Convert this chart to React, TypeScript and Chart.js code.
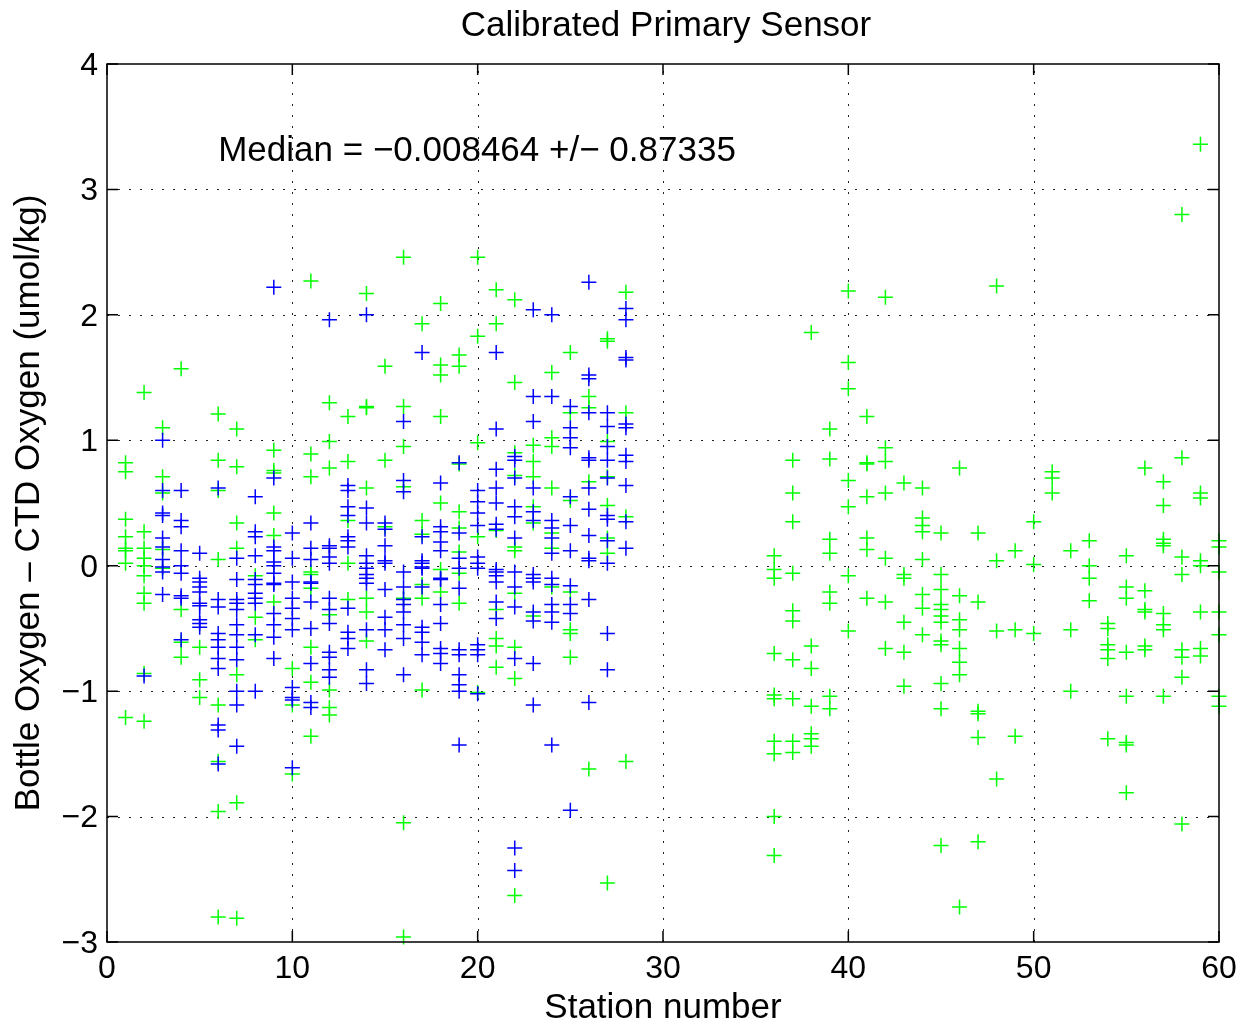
import React, { useEffect, useRef } from "react";
import { Chart, registerables } from "chart.js";

Chart.register(...registerables);

// ---- Data ----
const blueStations = [
  1, 2, 3, 4, 5, 6, 7, 8, 9, 10, 11, 12, 13, 14, 15, 16, 17, 18, 19, 20, 21, 22, 23, 24, 25, 26, 27, 28,
];
const blueValues: number[][] = [
  [],
  [-0.88],
  [1.0, 0.6, 0.42, 0.4, 0.22, 0.15, 0.05, -0.01, -0.05, -0.23],
  [0.6, 0.36, 0.31, 0.12, 0.0, -0.06, -0.24, -0.26, -0.59],
  [0.1, -0.1, -0.13, -0.17, -0.21, -0.3, -0.32, -0.43, -0.46, -0.49],
  [0.62, -0.27, -0.33, -0.54, -0.59, -0.65, -0.74, -0.82, -1.27, -1.31, -1.58],
  [0.06, -0.11, -0.27, -0.3, -0.35, -0.47, -0.55, -0.65, -0.75, -1.0, -1.11, -1.44],
  [0.55, 0.27, 0.23, 0.08, -0.11, -0.15, -0.22, -0.26, -0.3, -0.55, -1.0],
  [2.22, 0.7, 0.15, 0.12, 0.03, 0.0, -0.06, -0.14, -0.15, -0.38, -0.47, -0.57, -0.74],
  [0.26, 0.06, -0.13, -0.26, -0.34, -0.42, -0.51, -0.97, -1.05, -1.07, -1.61],
  [0.34, 0.14, 0.05, -0.13, -0.14, -0.29, -0.5, -0.78, -1.09, -1.13],
  [1.96, 0.16, 0.14, 0.07, 0.02, -0.26, -0.35, -0.46, -0.69, -0.73, -0.83, -0.89],
  [0.64, 0.6, 0.47, 0.4, 0.23, 0.2, 0.15, -0.34, -0.53, -0.58, -0.66],
  [2.0, 0.46, 0.34, 0.08, 0.02, -0.02, -0.07, -0.1, -0.14, -0.51, -0.83, -0.94],
  [0.34, 0.29, 0.16, 0.04, 0.02, -0.19, -0.41, -0.51, -0.67],
  [1.15, 0.68, 0.59, -0.05, -0.17, -0.27, -0.31, -0.37, -0.47, -0.58, -0.87],
  [1.7, 0.23, 0.04, 0.02, -0.01, -0.02, -0.17, -0.49, -0.53, -0.61, -0.71],
  [0.66, 0.31, 0.27, 0.19, 0.12, -0.1, -0.11, -0.31, -0.46, -0.66, -0.7, -0.78],
  [0.82, 0.26, 0.06, -0.02, -0.18, -0.67, -0.71, -0.87, -0.95, -1.0, -1.43],
  [0.6, 0.51, 0.42, 0.32, 0.07, 0.02, -0.02, -0.63, -0.67, -0.71, -1.02],
  [1.7, 1.09, 0.77, 0.62, 0.5, 0.33, 0.29, -0.03, -0.05, -0.08, -0.13, -0.29, -0.42],
  [0.87, 0.84, 0.7, 0.47, 0.39, 0.22, -0.05, -0.17, -0.33, -0.74, -2.25, -2.43],
  [2.04, 1.35, 1.15, 0.62, 0.43, 0.36, -0.07, -0.1, -0.13, -0.37, -0.44, -0.78, -1.11],
  [2.0, 1.35, 0.36, 0.3, 0.22, 0.1, -0.1, -0.15, -0.31, -0.37, -0.45, -1.43],
  [1.27, 1.1, 1.02, 0.94, 0.55, 0.32, 0.12, -0.16, -0.31, -0.38, -1.95],
  [2.26, 1.52, 1.49, 1.22, 0.86, 0.84, 0.62, 0.45, 0.24, 0.06, 0.04, -0.27, -1.09],
  [1.22, 1.11, 0.95, 0.84, 0.7, 0.4, 0.37, 0.2, 0.02, -0.54, -0.83],
  [2.05, 1.96, 1.66, 1.64, 1.13, 1.1, 0.88, 0.83, 0.64, 0.35, 0.14],
];

const greenStations = [
  1, 2, 3, 4, 5, 6, 7, 8, 9, 10, 11, 12, 13, 14, 15, 16, 17, 18, 19, 20, 21, 22, 23, 24, 25, 26, 27, 28,
  36, 37, 38, 39, 40, 41, 42, 43, 44, 45, 46, 47, 48, 49, 50, 51, 52, 53, 54, 55, 56, 57, 58, 59, 60,
];
const greenValues: number[][] = [
  [0.82, 0.75, 0.37, 0.23, 0.14, 0.12, 0.02, -1.21],
  [1.38, 0.27, 0.14, 0.06, 0.0, -0.08, -0.22, -0.3, -0.86, -1.24],
  [1.1, 0.71, 0.58, 0.13, -0.02],
  [1.57, -0.35, -0.61, -0.73],
  [-0.65, -0.91, -1.05],
  [1.21, 0.84, 0.6, 0.05, -1.11, -1.56, -1.96, -2.8],
  [1.09, 0.79, 0.34, 0.14, -0.87, -1.89, -2.81],
  [-0.08, -0.41, -0.59],
  [0.92, 0.76, 0.74, 0.42, 0.24, -0.29],
  [-0.82, -1.11, -1.66],
  [2.27, 0.89, 0.71, -0.05, -0.07, -0.18, -0.65, -0.93, -1.36],
  [1.3, 0.99, 0.78, -0.39, -0.99, -1.13, -1.19],
  [1.19, 0.83, 0.36, 0.02, -0.27],
  [2.17, 1.27, 1.26, 0.62, -0.26, -0.37, -0.6],
  [1.59, 0.84, 0.31],
  [2.46, 1.27, 0.95, 0.63, -0.26, -2.05, -2.96],
  [1.93, 0.36, 0.25, -0.15, -0.26, -0.99],
  [2.09, 1.6, 1.52, 1.19, 0.5, -0.03, -0.21],
  [1.68, 1.59, 0.81, 0.43, 0.3, 0.11, -0.06, -0.3],
  [2.46, 1.83, 0.98, 0.23, -1.01],
  [2.2, 1.93, 0.28, -0.35, -0.58, -0.64, -0.81],
  [2.12, 1.46, 0.9, 0.72, 0.15, 0.12, -0.22, -0.65, -0.9, -2.63],
  [0.96, 0.83, 0.71, 0.47, 0.34, -0.4],
  [1.54, 1.02, 0.95, 0.62, 0.26, 0.14, -0.17],
  [1.7, 1.22, 0.52, -0.21, -0.51, -0.54, -0.73],
  [1.35, 1.26, 0.67, -1.62],
  [1.81, 1.79, 0.99, 0.71, 0.48, 0.22, 0.1, -2.53],
  [2.18, 1.22, 0.39, -1.56],
  [0.08, -0.03, -0.1, -0.7, -1.03, -1.06, -1.4, -1.5, -2.0, -2.31],
  [0.84, 0.58, 0.35, -0.06, -0.36, -0.44, -0.75, -1.06, -1.4, -1.49],
  [1.86, -0.64, -0.82, -1.12, -1.34, -1.38, -1.44],
  [1.09, 0.85, 0.21, 0.1, -0.21, -0.3, -1.04, -1.14],
  [2.19, 1.62, 1.41, 0.68, 0.47, -0.08, -0.52],
  [1.19, 0.82, 0.81, 0.55, 0.22, 0.13, -0.26],
  [2.14, 0.94, 0.83, 0.58, 0.06, -0.29, -0.66],
  [0.66, -0.07, -0.1, -0.45, -0.69, -0.96],
  [0.62, 0.38, 0.32, 0.27, 0.05, -0.23, -0.34, -0.55],
  [0.26, -0.07, -0.19, -0.31, -0.35, -0.4, -0.45, -0.6, -0.63, -0.94, -1.14, -2.23],
  [0.78, -0.24, -0.43, -0.51, -0.66, -0.77, -0.87, -2.72],
  [0.26, -0.29, -1.16, -1.18, -1.37, -2.2],
  [2.23, 0.04, -0.52, -1.7],
  [0.12, -0.51, -1.36],
  [0.35, 0.01, -0.54],
  [0.75, 0.7, 0.58],
  [0.12, -0.51, -1.0],
  [0.2, 0.0, -0.1, -0.28],
  [-0.46, -0.5, -0.63, -0.67, -0.74, -1.38],
  [0.08, -0.17, -0.26, -0.69, -1.04, -1.41, -1.43, -1.81],
  [0.78, -0.2, -0.35, -0.37, -0.64, -0.67],
  [0.67, 0.48, 0.21, 0.18, 0.16, -0.38, -0.47, -0.51, -1.04],
  [2.8, 0.86, 0.07, -0.07, -0.67, -0.73, -0.89, -2.06],
  [3.36, 0.58, 0.54, 0.04, 0.0, -0.37, -0.66, -0.72],
  [0.2, 0.15, -0.05, -0.37, -0.55, -1.04, -1.12],
];

const xTicks = [0, 10, 20, 30, 40, 50, 60];
const yTicks = [-3, -2, -1, 0, 1, 2, 3, 4];
const titleText = "Calibrated Primary Sensor";
const xLabelText = "Station number";
const yLabelText = "Bottle Oxygen \u2013 CTD Oxygen (umol/kg)";
const medianText = "Median = \u22120.008464 +/\u2212 0.87335";
const medianX = 6;
const medianY = 3.3;

const FONT = '"Liberation Sans", Arial, Helvetica, sans-serif';
const fmt = (v: number) => (v < 0 ? "\u2212" + Math.abs(v) : String(v));

function toPoints(stations: number[], values: number[][]) {
  const pts: { x: number; y: number }[] = [];
  stations.forEach((s, i) => {
    (values[i] || []).forEach((v) => pts.push({ x: s, y: v }));
  });
  return pts;
}

const matlabAxes = {
  id: "matlabAxes",
  beforeDatasetsDraw(chart: any) {
    const { ctx, chartArea: a, scales } = chart;
    const xs = scales.x;
    const ys = scales.y;
    ctx.save();
    ctx.strokeStyle = "#222";
    ctx.lineWidth = 1;
    ctx.setLineDash([2, 9]);
    xTicks.forEach((t) => {
      if (t === xs.min || t === xs.max) return;
      const px = Math.round(xs.getPixelForValue(t)) + 0.5;
      ctx.beginPath();
      ctx.moveTo(px, a.bottom);
      ctx.lineTo(px, a.top);
      ctx.stroke();
    });
    yTicks.forEach((t) => {
      if (t === ys.min || t === ys.max) return;
      const py = Math.round(ys.getPixelForValue(t)) + 0.5;
      ctx.beginPath();
      ctx.moveTo(a.left, py);
      ctx.lineTo(a.right, py);
      ctx.stroke();
    });
    ctx.restore();
  },
  afterDraw(chart: any) {
    const { ctx, chartArea: a, scales } = chart;
    const xs = scales.x;
    const ys = scales.y;
    const tick = 11;
    ctx.save();
    ctx.setLineDash([]);
    ctx.strokeStyle = "#000";
    ctx.lineWidth = 1.5;
    ctx.strokeRect(a.left, a.top, a.right - a.left, a.bottom - a.top);
    ctx.beginPath();
    xTicks.forEach((t) => {
      const px = xs.getPixelForValue(t);
      ctx.moveTo(px, a.bottom);
      ctx.lineTo(px, a.bottom - tick);
      ctx.moveTo(px, a.top);
      ctx.lineTo(px, a.top + tick);
    });
    yTicks.forEach((t) => {
      const py = ys.getPixelForValue(t);
      ctx.moveTo(a.left, py);
      ctx.lineTo(a.left + tick, py);
      ctx.moveTo(a.right, py);
      ctx.lineTo(a.right - tick, py);
    });
    ctx.stroke();

    ctx.fillStyle = "#000";
    ctx.font = `32px ${FONT}`;
    // y tick labels
    ctx.textAlign = "right";
    ctx.textBaseline = "middle";
    yTicks.forEach((t) => {
      ctx.fillText(fmt(t), a.left - 9, ys.getPixelForValue(t) + 2);
    });
    // x tick labels
    ctx.textAlign = "center";
    ctx.textBaseline = "top";
    xTicks.forEach((t) => {
      ctx.fillText(fmt(t), xs.getPixelForValue(t), a.bottom + 11);
    });
    // axis titles
    ctx.font = `35px ${FONT}`;
    ctx.textBaseline = "alphabetic";
    ctx.fillText(xLabelText, (a.left + a.right) / 2, 1018);
    ctx.fillText(titleText, (a.left + a.right) / 2 + 3, 36);
    ctx.save();
    ctx.translate(39, (a.top + a.bottom) / 2);
    ctx.rotate(-Math.PI / 2);
    ctx.fillText(yLabelText, 0, 0);
    ctx.restore();
    // median annotation
    ctx.textAlign = "left";
    ctx.textBaseline = "middle";
    ctx.fillText(medianText, xs.getPixelForValue(medianX), ys.getPixelForValue(medianY));
    ctx.restore();
  },
};

export default function App() {
  const canvasRef = useRef<HTMLCanvasElement | null>(null);

  useEffect(() => {
    const canvas = canvasRef.current;
    if (!canvas) return;
    const chart = new Chart(canvas, {
      type: "scatter",
      data: {
        datasets: [
          {
            label: "blue",
            data: toPoints(blueStations, blueValues),
            borderColor: "#0000ff",
            backgroundColor: "#0000ff",
            clip: false as any,
          },
          {
            label: "green",
            data: toPoints(greenStations, greenValues),
            borderColor: "#00ff00",
            backgroundColor: "#00ff00",
            clip: false as any,
          },
        ],
      },
      options: {
        responsive: false,
        animation: false,
        devicePixelRatio: 1,
        events: [],
        layout: { padding: { left: 107, right: 33, top: 64, bottom: 85 } },
        elements: {
          point: {
            pointStyle: "cross",
            radius: 7.5,
            hoverRadius: 7.5,
            borderWidth: 1.5,
          },
        },
        scales: {
          x: { type: "linear", min: 0, max: 60, display: false },
          y: { type: "linear", min: -3, max: 4, display: false },
        },
        plugins: {
          legend: { display: false },
          tooltip: { enabled: false },
          title: { display: false },
        },
      },
      plugins: [matlabAxes],
    });
    return () => chart.destroy();
  }, []);

  return (
    <div style={{ position: "fixed", left: 0, top: 0, width: 1252, height: 1027, background: "#fff" }}>
      <canvas ref={canvasRef} width={1252} height={1027} style={{ display: "block" }} />
    </div>
  );
}
